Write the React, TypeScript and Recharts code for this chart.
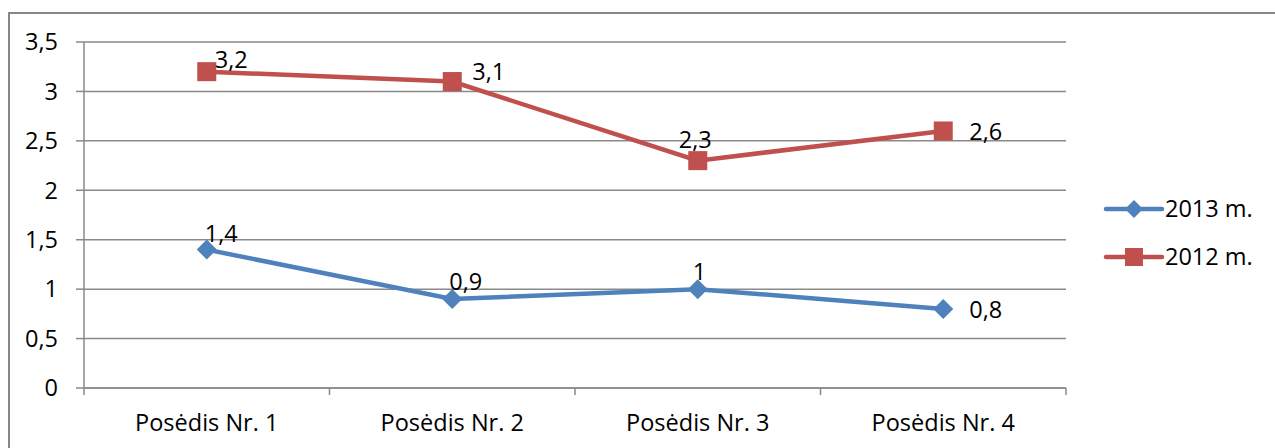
import React from "react";
import {
  LineChart,
  Line,
  XAxis,
  YAxis,
  CartesianGrid,
  Legend,
  LabelList,
} from "recharts";

// categories and series values
const sessions = ["Posėdis Nr. 1", "Posėdis Nr. 2", "Posėdis Nr. 3", "Posėdis Nr. 4"];
const values2013 = [1.4, 0.9, 1, 0.8];
const values2012 = [3.2, 3.1, 2.3, 2.6];
const yTicks = [0, 0.5, 1, 1.5, 2, 2.5, 3, 3.5];

// label nudges (px) relative to each point, like the hand-placed labels in the source
const nudge2013 = [[-2, -8], [-3, -9], [-5, -9], [26, 9]];
const nudge2012 = [[8, -4], [20, -2], [-19, -13], [26, 9]];

const BLUE = "#4F81BD";
const RED = "#C0504D";
const GRID = "#8a8a8a";
const FONT = "'Open Sans', sans-serif";
const FS = 23.5;

const W = 1275;
const H = 448;
const PLOT_L = 84;
const PLOT_R = 1066;
const PLOT_T = 42;
const PLOT_B = 388;
const BAND = (PLOT_R - PLOT_L) / sessions.length;

const data = sessions.map((s, i) => ({
  name: s,
  y2013: values2013[i],
  y2012: values2012[i],
}));

const fmt = (v: number | string) => String(v).replace(".", ",");

const Diamond = (props: any) => {
  const { cx, cy, index } = props;
  if (cx == null || cy == null) return null;
  const r = 10;
  return (
    <polygon
      key={`d-${index}`}
      points={`${cx},${cy - r} ${cx + r},${cy} ${cx},${cy + r} ${cx - r},${cy}`}
      fill={BLUE}
    />
  );
};

const Square = (props: any) => {
  const { cx, cy, index } = props;
  if (cx == null || cy == null) return null;
  const r = 9.5;
  return <rect key={`s-${index}`} x={cx - r} y={cy - r} width={2 * r} height={2 * r} fill={RED} />;
};

const makeLabel = (nudges: number[][]) => (props: any) => {
  const { x, y, value, index } = props;
  const [dx, dy] = nudges[index] || [0, 0];
  return (
    <text
      key={`l-${index}`}
      x={x + dx}
      y={y + dy}
      fontFamily={FONT}
      fontSize={FS}
      fill="#000"
      textAnchor="start"
    >
      {fmt(value)}
    </text>
  );
};

const CatTick = (props: any) => {
  const { x, y, payload, index } = props;
  const last = index === sessions.length - 1;
  return (
    <g>
      <line x1={x - BAND / 2} x2={x - BAND / 2} y1={PLOT_B} y2={PLOT_B + 7} stroke={GRID} strokeWidth={1.5} />
      {last && (
        <line x1={x + BAND / 2} x2={x + BAND / 2} y1={PLOT_B} y2={PLOT_B + 7} stroke={GRID} strokeWidth={1.5} />
      )}
      <text x={x} y={y} dy="0.71em" textAnchor="middle" fontFamily={FONT} fontSize={FS} fill="#000">
        {payload.value}
      </text>
    </g>
  );
};

const legendItems = [
  { label: "2013 m.", color: BLUE, shape: "diamond" },
  { label: "2012 m.", color: RED, shape: "square" },
];

const renderLegend = () => (
  <svg width={160} height={80} style={{ display: "block", overflow: "visible" }}>
    {legendItems.map((it, i) => {
      const cy = 14 + i * 48;
      const cx = 29;
      return (
        <g key={it.label}>
          <line x1={1} x2={57} y1={cy} y2={cy} stroke={it.color} strokeWidth={4.5} strokeLinecap="round" />
          {it.shape === "diamond" ? (
            <polygon points={`${cx},${cy - 9} ${cx + 9},${cy} ${cx},${cy + 9} ${cx - 9},${cy}`} fill={it.color} />
          ) : (
            <rect x={cx - 9} y={cy - 9} width={18} height={18} fill={it.color} />
          )}
          <text x={60} y={cy} dy="0.35em" fontFamily={FONT} fontSize={FS} fill="#000">
            {it.label}
          </text>
        </g>
      );
    })}
  </svg>
);

export default function App() {
  return (
    <div
      style={{
        position: "fixed",
        left: 0,
        top: 0,
        width: W,
        height: H,
        overflow: "hidden",
        background: "#fff",
      }}
    >
      <div
        style={{
          position: "absolute",
          left: 8,
          top: 12,
          width: 1400,
          height: 600,
          borderLeft: "2px solid #878787",
          borderTop: "2px solid #878787",
        }}
      />
      <div style={{ position: "absolute", left: 0, top: 0 }}>
        <LineChart
          width={W}
          height={H}
          data={data}
          margin={{ top: PLOT_T, left: PLOT_L - 60, right: W - PLOT_R, bottom: 0 }}
        >
          <CartesianGrid vertical={false} stroke={GRID} strokeWidth={1.5} />
          <XAxis
            dataKey="name"
            height={H - PLOT_B}
            padding={{ left: BAND / 2, right: BAND / 2 }}
            axisLine={{ stroke: GRID, strokeWidth: 1.5 }}
            tickLine={false}
            tickSize={0}
            tickMargin={26}
            tick={<CatTick />}
            interval={0}
          />
          <YAxis
            width={60}
            domain={[0, 3.5]}
            ticks={yTicks}
            tickFormatter={fmt}
            axisLine={{ stroke: GRID, strokeWidth: 1.5 }}
            tickLine={{ stroke: GRID, strokeWidth: 1.5 }}
            tickSize={8}
            tickMargin={18}
            tick={{ fill: "#000", fontFamily: FONT, fontSize: FS }}
          />
          <Legend
            layout="horizontal"
            verticalAlign="middle"
            align="center"
            content={renderLegend}
            wrapperStyle={{ position: "absolute", left: 1105, top: 195, width: 160, height: 80 }}
          />
          <Line
            dataKey="y2013"
            name="2013 m."
            stroke={BLUE}
            strokeWidth={4.5}
            dot={Diamond}
            activeDot={false}
            isAnimationActive={false}
          >
            <LabelList dataKey="y2013" content={makeLabel(nudge2013)} />
          </Line>
          <Line
            dataKey="y2012"
            name="2012 m."
            stroke={RED}
            strokeWidth={4.5}
            dot={Square}
            activeDot={false}
            isAnimationActive={false}
          >
            <LabelList dataKey="y2012" content={makeLabel(nudge2012)} />
          </Line>
        </LineChart>
      </div>
    </div>
  );
}
